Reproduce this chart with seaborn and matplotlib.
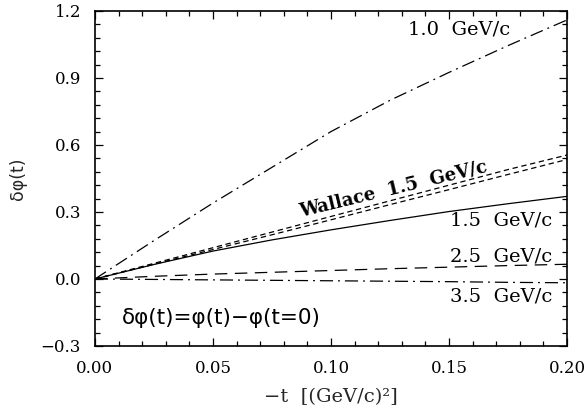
import matplotlib
matplotlib.use("Agg")
import matplotlib.pyplot as plt
import seaborn as sns
import numpy as np
import pandas as pd
from matplotlib.ticker import MultipleLocator

# ---- data ----
t = [0.0, 0.025, 0.05, 0.075, 0.10, 0.125, 0.15, 0.175, 0.20]
p10 = [0.0, 0.172, 0.340, 0.500, 0.660, 0.800, 0.925, 1.045, 1.160]
wallace_hi = [0.0, 0.070, 0.140, 0.210, 0.280, 0.350, 0.420, 0.490, 0.555]
wallace_lo = [0.0, 0.066, 0.132, 0.198, 0.265, 0.333, 0.400, 0.468, 0.535]
p15 = [0.0, 0.065, 0.125, 0.175, 0.220, 0.262, 0.302, 0.337, 0.370]
p25 = [0.0, 0.012, 0.022, 0.030, 0.038, 0.046, 0.053, 0.060, 0.066]
p35 = [0.0, -0.002, -0.004, -0.006, -0.008, -0.010, -0.012, -0.015, -0.017]

series_names = ["1.0", "W_hi", "W_lo", "1.5", "2.5", "3.5"]
series_vals = [p10, wallace_hi, wallace_lo, p15, p25, p35]

xticks = [0.00, 0.05, 0.10, 0.15, 0.20]
yticks = [-0.3, 0.0, 0.3, 0.6, 0.9, 1.2]

df = pd.concat([pd.DataFrame({"t": t, "dphi": v, "series": n})
                for n, v in zip(series_names, series_vals)], ignore_index=True)

sns.set_style("ticks")
plt.rcParams["font.family"] = ["DejaVu Serif", "DejaVu Sans"]

fig = plt.figure(figsize=(5.86, 4.15), dpi=100)
ax = fig.add_axes([0.162, 0.1663, 0.8056, 0.8072])

dash_map = {
    "1.0": (10.5, 4.0, 1.5, 4.0),
    "W_hi": (4.3, 2.9),
    "W_lo": (4.3, 2.9),
    "1.5": "",
    "2.5": (10.0, 6.0),
    "3.5": (10.5, 4.0, 1.5, 4.0),
}
sns.lineplot(data=df, x="t", y="dphi", style="series", dashes=dash_map,
             color="black", linewidth=0.9, legend=False, ax=ax,
             estimator=None, sort=False)

ax.set_xlim(0.0, 0.20)
ax.set_ylim(-0.3, 1.2)
ax.set_xticks(xticks)
ax.set_yticks(yticks)
ax.set_xticklabels([f"{v:.2f}" for v in xticks])
ax.set_yticklabels([f"{v:.1f}".replace("-", "\u2212") for v in yticks])
ax.xaxis.set_minor_locator(MultipleLocator(0.01))
ax.yaxis.set_minor_locator(MultipleLocator(0.06))
ax.tick_params(which="both", direction="in", top=True, right=True,
               labelsize=12, width=0.9, color="black", labelcolor="black")
ax.tick_params(which="major", length=6, pad=10)
ax.tick_params(which="minor", length=3.5)
for s in ax.spines.values():
    s.set_linewidth(1.2)
    s.set_color("black")

ax.set_xlabel("\u2212t  [(GeV/c)\u00b2]", fontsize=14, labelpad=8)
ax.set_ylabel("\u03b4\u03c6(t)", fontsize=12.5, family="DejaVu Sans", labelpad=10)

lab = dict(fontsize=14, color="black", ha="right", va="center")
ax.text(0.1758, 1.115, "1.0  GeV/c", **lab)
ax.text(0.1936, 0.264, "1.5  GeV/c", **lab)
ax.text(0.1936, 0.099, "2.5  GeV/c", **lab)
ax.text(0.1936, -0.080, "3.5  GeV/c", **lab)
ax.text(0.1263, 0.405, "Wallace  1.5  GeV/c", fontsize=13, color="black",
        ha="center", va="center", rotation=13.6, weight="bold")
ax.text(0.0114, -0.175, "\u03b4\u03c6(t)=\u03c6(t)\u2212\u03c6(t=0)", fontsize=15.5,
        family="DejaVu Sans", ha="left", va="center", color="black")

fig.savefig("out.png", dpi=100)
